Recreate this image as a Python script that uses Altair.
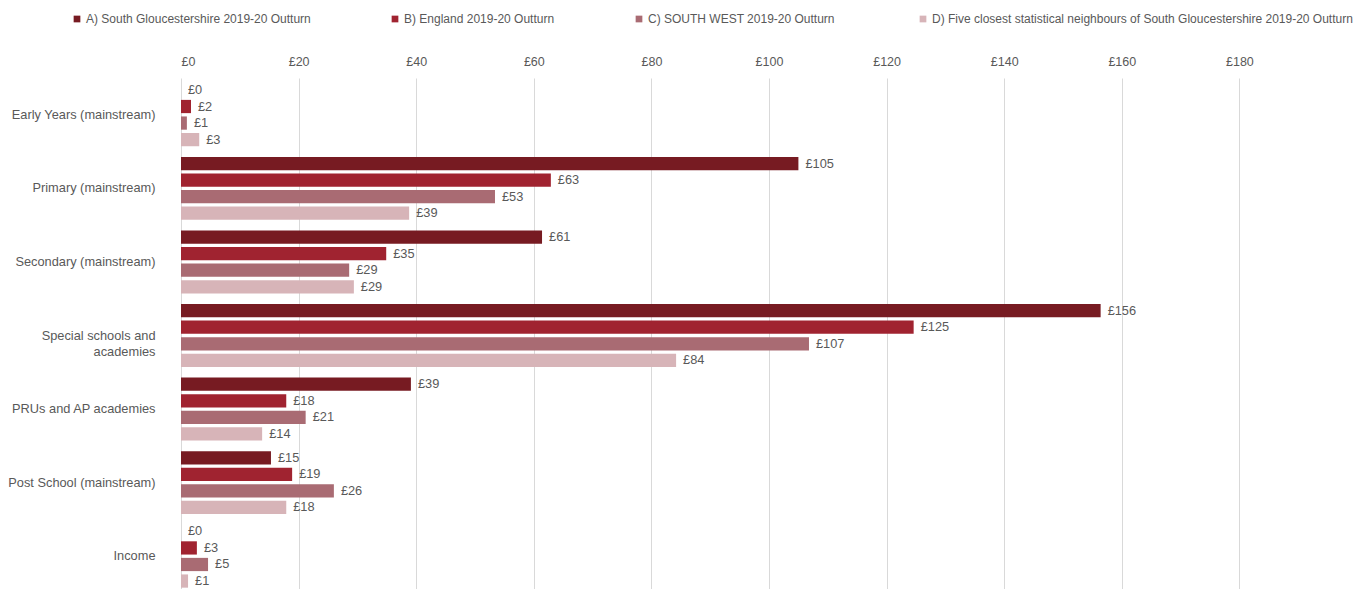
import altair as alt
import pandas as pd

categories = [
    "Early Years (mainstream)",
    "Primary (mainstream)",
    "Secondary (mainstream)",
    "Special schools and academies",
    "PRUs and AP academies",
    "Post School (mainstream)",
    "Income",
]
series = [
    "A) South Gloucestershire 2019-20 Outturn",
    "B) England 2019-20 Outturn",
    "C) SOUTH WEST  2019-20 Outturn",
    "D) Five closest statistical neighbours of South Gloucestershire 2019-20 Outturn",
]
vals_a = [0, 105, 61.4, 156.4, 39.1, 15.3, 0]
vals_b = [1.7, 62.9, 34.9, 124.6, 17.9, 18.9, 2.7]
vals_c = [1.0, 53.4, 28.6, 106.8, 21.2, 26.0, 4.6]
vals_d = [3.1, 38.8, 29.4, 84.2, 13.8, 17.9, 1.2]
colors = ["#771b22", "#a02330", "#a96b73", "#d7b4b8"]
x_ticks = [0, 20, 40, 60, 80, 100, 120, 140, 160, 180]

rows = []
for s, vals in zip(series, [vals_a, vals_b, vals_c, vals_d]):
    for c, v in zip(categories, vals):
        rows.append({"category": c, "series": s, "value": v})
df = pd.DataFrame(rows)

FONT = "Liberation Sans"
GREY = "#595959"

y_enc = alt.Y(
    "category:N",
    sort=categories,
    scale=alt.Scale(paddingInner=0.1, paddingOuter=0.05),
    axis=alt.Axis(
        title=None,
        ticks=False,
        domain=False,
        grid=False,
        labelPadding=26,
        labelFontSize=12.8,
        labelColor=GREY,
        labelFont=FONT,
        labelLineHeight=16,
        labelLimit=300,
        labelExpr="datum.label == 'Special schools and academies' ? ['Special schools and', 'academies'] : datum.label",
    ),
)
yoff_enc = alt.YOffset("series:N", sort=series, scale=alt.Scale(paddingInner=0.2, paddingOuter=0.1))
x_enc = alt.X(
    "value:Q",
    scale=alt.Scale(domain=[0, 200], nice=False),
    axis=alt.Axis(
        orient="top",
        title=None,
        values=x_ticks,
        ticks=False,
        domain=False,
        labelExpr="'£' + datum.value",
        labelPadding=10,
        labelFontSize=12.5,
        labelColor=GREY,
        labelFont=FONT,
        gridColor="#d9d9d9",
        gridWidth=1,
    ),
)

bars = alt.Chart(df).mark_bar().encode(
    x=x_enc,
    y=y_enc,
    yOffset=yoff_enc,
    color=alt.Color(
        "series:N",
        sort=series,
        scale=alt.Scale(domain=series, range=colors),
        legend=alt.Legend(
            title=None,
            orient="none",
            legendX=-110,
            legendY=-65,
            direction="horizontal",
            symbolType="square",
            symbolSize=45,
            symbolStrokeWidth=0,
            labelFontSize=12,
            labelColor=GREY,
            labelFont=FONT,
            labelLimit=600,
            columnPadding=78,
            labelOffset=3,
        ),
    ),
)

labels = alt.Chart(df).transform_calculate(
    label="'£' + format(datum.value, '.0f')"
).mark_text(align="left", baseline="middle", dx=7, fontSize=12.8, color=GREY, font=FONT).encode(
    x="value:Q",
    y=alt.Y("category:N", sort=categories),
    yOffset=alt.YOffset("series:N", sort=series),
    text="label:N",
)

chart = (
    alt.layer(bars, labels)
    .properties(
        width=1176,
        height=515,
        autosize=alt.AutoSizeParams(type="none"),
        padding={"left": 181, "top": 78, "right": 8, "bottom": 0},
        background="white",
    )
    .configure_view(stroke=None)
)

chart.save("out.html", embed_options={"renderer": "svg", "actions": False})
